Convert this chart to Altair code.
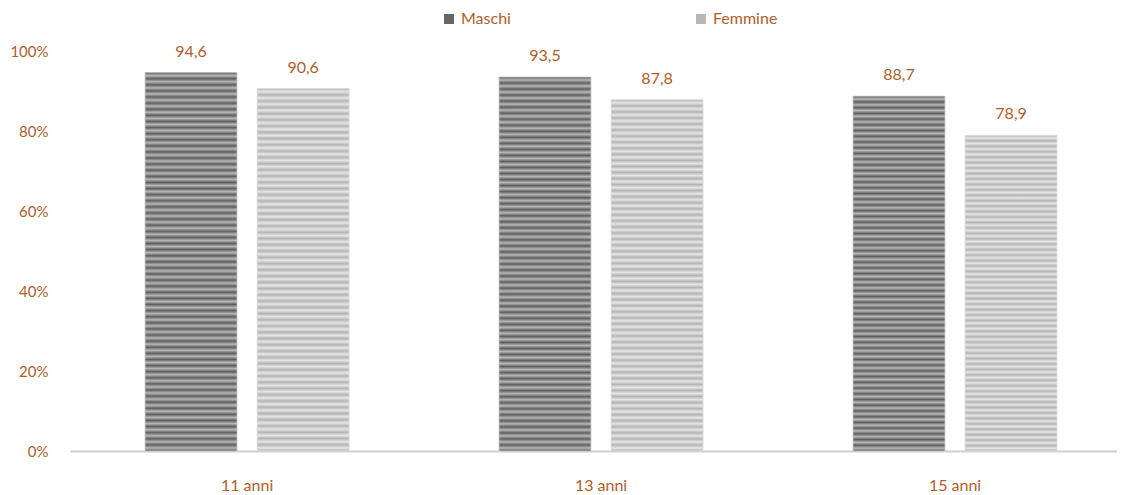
import altair as alt
import pandas as pd

ages = ["11 anni", "13 anni", "15 anni"]
maschi = [94.6, 93.5, 88.7]
femmine = [90.6, 87.8, 78.9]
series = ["Maschi", "Femmine"]
y_ticks = [0, 20, 40, 60, 80, 100]

rows = []
for i, a in enumerate(ages):
    rows.append({"age": a, "sex": "Maschi", "value": maschi[i]})
    rows.append({"age": a, "sex": "Femmine", "value": femmine[i]})
df = pd.DataFrame(rows)

TXT = "#B0602A"
FONT = "Lato"


def stripes(dark, light, n):
    stops = []
    for k in range(n):
        stops.append({"offset": k / n, "color": dark})
        stops.append({"offset": (k + 0.5) / n, "color": light})
    stops.append({"offset": 1.0, "color": dark})
    return {"gradient": "linear", "x1": 0, "y1": 0, "x2": 0, "y2": 1, "stops": stops}


x_enc = alt.X("age:N", sort=ages, title=None,
              scale=alt.Scale(paddingInner=0.4237, paddingOuter=0.1908, align=0.556),
              axis=alt.Axis(labelAngle=0, labelColor=TXT, labelFontSize=16,
                            labelFont=FONT, labelPadding=26, ticks=False,
                            domainColor="#D0D0D0", domainWidth=2))
xo_enc = alt.XOffset("sex:N", sort=series,
                     scale=alt.Scale(paddingInner=0.18, paddingOuter=0))
y_enc = alt.Y("value:Q", title=None,
              scale=alt.Scale(domain=[0, 100], nice=False),
              axis=alt.Axis(values=y_ticks, labelExpr="datum.value + '%'",
                            grid=False, domain=False, ticks=False, tickSize=0,
                            labelColor=TXT, labelFontSize=15, labelFont=FONT,
                            labelPadding=22))

base = alt.Chart(df).encode(x=x_enc, xOffset=xo_enc, y=y_enc)

legend_bars = base.mark_bar().encode(
    color=alt.Color("sex:N", sort=series, title=None,
                    scale=alt.Scale(domain=series, range=["#666666", "#B8B8B8"]),
                    legend=alt.Legend(orient="none", legendX=371, legendY=-40,
                                      direction="horizontal", symbolType="square",
                                      symbolSize=100, symbolStrokeWidth=0,
                                      labelColor=TXT, labelFontSize=16,
                                      labelFont=FONT, columnPadding=182))
)

m_bars = base.transform_filter(alt.datum.sex == "Maschi").mark_bar(
    fill=stripes("#5E5E5E", "#B8B8B8", 62), stroke="#C8C8C8", strokeWidth=0.8)
f_bars = base.transform_filter(alt.datum.sex == "Femmine").mark_bar(
    fill=stripes("#B4B4B4", "#E6E6E6", 58), stroke="#E0E0E0", strokeWidth=0.8)

labels = base.transform_calculate(
    lab="replace(format(datum.value, '.1f'), '.', ',')"
).mark_text(baseline="bottom", dy=-13, fontSize=16, font=FONT, color=TXT).encode(
    text="lab:N")

chart = alt.layer(legend_bars, m_bars, f_bars, labels).properties(
    width=1047, height=400, background="white",
    autosize=alt.AutoSizeParams(type="none"),
    padding={"left": 62, "top": 43, "right": 0, "bottom": 44}
).configure_view(stroke=None)

chart.save("out.html", embed_options={"renderer": "svg", "actions": False})
